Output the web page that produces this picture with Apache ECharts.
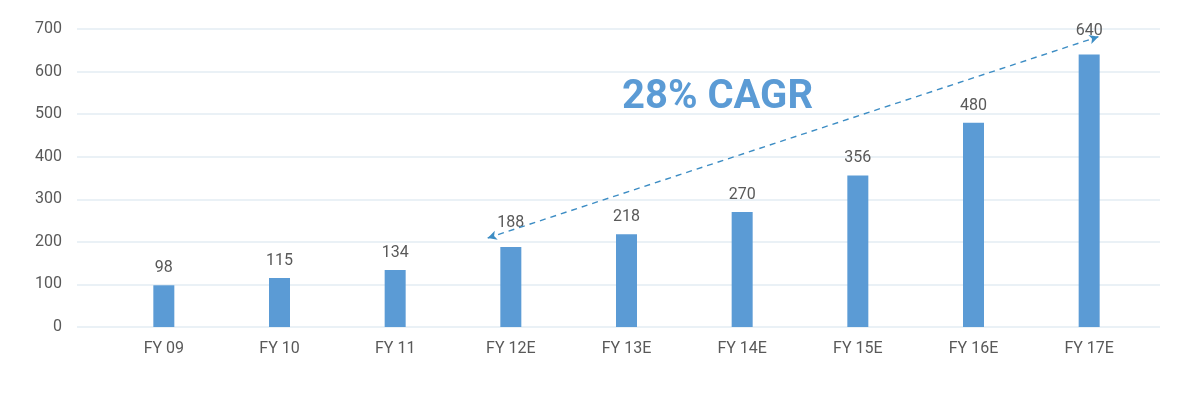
<!DOCTYPE html>
<html><head><meta charset="utf-8">
<script src="https://cdn.jsdelivr.net/npm/echarts@6/dist/echarts.min.js"></script>
<style>html,body{margin:0;padding:0;background:#fff}#c{width:1200px;height:403px}</style>
</head><body><div id="c"></div>
<script>
const categories = ['FY 09','FY 10','FY 11','FY 12E','FY 13E','FY 14E','FY 15E','FY 16E','FY 17E'];
const values = [98, 115, 134, 188, 218, 270, 356, 480, 640];
const yTicks = [0, 100, 200, 300, 400, 500, 600, 700];
const cagrText = '28% CAGR';
// arrow annotation endpoints: [category position, value]
const arrowStart = [2.8, 209];
const arrowEnd = [8.08, 682];
// labels lifted to clear the arrow
const liftedLabels = ['FY 12E', 'FY 17E'];

const chart = echarts.init(document.getElementById('c'));
const font = 'Roboto, "Noto Sans", sans-serif';
const barData = values.map((v, i) => liftedLabels.includes(categories[i])
  ? {value: v, label: {distance: 16}} : v);
chart.setOption({
  animation: false,
  grid: [
    {left: 77, right: 40, top: 29, bottom: 76},
    {left: 106, right: 53, top: 29, bottom: 76}
  ],
  xAxis: [
    {gridIndex: 0, type: 'value', show: false, min: 0, max: 1},
    {gridIndex: 1, type: 'category', data: categories,
     axisLine: {show: false}, axisTick: {show: false},
     axisLabel: {color: '#595959', fontSize: 16, fontFamily: font, margin: 14}},
    {gridIndex: 1, type: 'value', show: false, min: -0.5, max: 8.5}
  ],
  yAxis: [
    {gridIndex: 0, type: 'value', min: yTicks[0], max: yTicks[yTicks.length-1], interval: 100,
     axisLine: {show: false}, axisTick: {show: false},
     axisLabel: {color: '#595959', fontSize: 16, fontFamily: font, margin: 15},
     splitLine: {lineStyle: {color: '#e3ecf3', width: 1.5}}},
    {gridIndex: 1, type: 'value', min: yTicks[0], max: yTicks[yTicks.length-1], show: false, splitLine: {show: false}}
  ],
  series: [
    {type: 'bar', xAxisIndex: 1, yAxisIndex: 1, data: barData, barWidth: 21,
     itemStyle: {color: '#5b9bd5'},
     label: {show: true, position: 'top', distance: 9, color: '#595959', fontSize: 16, fontFamily: font}},
    {type: 'line', xAxisIndex: 2, yAxisIndex: 1, data: [arrowStart, arrowEnd],
     showSymbol: false, symbol: 'none', lineStyle: {opacity: 0}, silent: true,
     markLine: {silent: true, symbol: ['arrow', 'arrow'], symbolSize: [7, 9],
       label: {show: false},
       lineStyle: {type: [6, 5], color: '#3d8dc4', width: 1.4},
       data: [[{coord: arrowStart}, {coord: arrowEnd}]]}}
  ],
  graphic: [
    {type: 'text', left: 622, top: 78,
     style: {text: cagrText, fill: '#5b9bd5', font: 'bold 40px Roboto, "Noto Sans", sans-serif'}}
  ]
});
</script></body></html>
